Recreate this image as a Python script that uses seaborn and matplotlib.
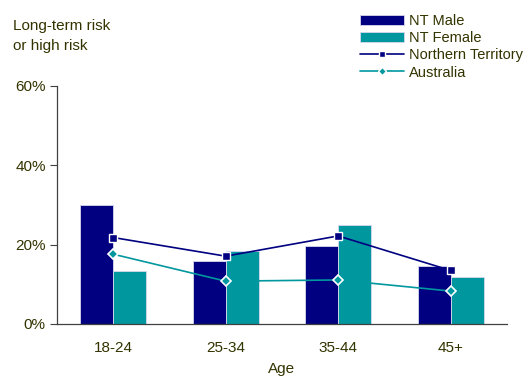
import matplotlib
matplotlib.use("Agg")
import matplotlib.pyplot as plt
from matplotlib.patches import Patch
from matplotlib.lines import Line2D
import pandas as pd
import seaborn as sns

# Share of adults at long-term or high risk, by age group
ages = ["18-24", "25-34", "35-44", "45+"]
nt_male = [30.0, 16.0, 19.7, 14.5]
nt_female = [13.4, 18.4, 25.0, 11.9]
northern_territory = [21.8, 17.1, 22.2, 13.5]
australia = [17.6, 10.8, 11.1, 8.3]
y_ticks = [0, 20, 40, 60]

NAVY = "#000080"
TEAL = "#00979F"
TEXT = "#333300"
FS = 11

sns.set_theme(style="white")
plt.rcParams["font.family"] = ["Liberation Sans", "DejaVu Sans"]
plt.rcParams["font.size"] = FS

bars = pd.DataFrame({
    "Age": ages * 2,
    "Value": nt_male + nt_female,
    "Group": ["NT Male"] * len(ages) + ["NT Female"] * len(ages),
})

fig = plt.figure(figsize=(5.30, 3.76), dpi=100)
ax = fig.add_axes([0.1075, 0.1383, 0.849, 0.633])

sns.barplot(data=bars, x="Age", y="Value", hue="Group", order=ages,
            hue_order=["NT Male", "NT Female"],
            palette=[NAVY, TEAL], saturation=1, width=0.59, dodge=True,
            edgecolor="#d8d8ee", linewidth=0.6, errorbar=None,
            legend=False, ax=ax)

sns.pointplot(x=ages, y=northern_territory, order=ages, color=NAVY,
              markers="s", markersize=6, linewidth=1.2,
              markeredgecolor="white", markeredgewidth=1.0, ax=ax)
sns.pointplot(x=ages, y=australia, order=ages, color=TEAL,
              markers="D", markersize=5.5, linewidth=1.2,
              markeredgecolor="white", markeredgewidth=1.2, ax=ax)

ax.set_xlim(-0.5, len(ages) - 0.5)
ax.set_ylim(0, 60)
ax.set_yticks(y_ticks)
ax.set_yticklabels([f"{v}%" for v in y_ticks], color=TEXT, fontsize=FS)
ax.set_xticks(range(len(ages)))
ax.set_xticklabels(ages, color=TEXT, fontsize=FS)
ax.set_xticks([i - 0.5 for i in range(len(ages) + 1)], minor=True)
ax.tick_params(axis="x", which="major", length=0, pad=12)
ax.tick_params(axis="x", which="minor", length=5, color="#808080", width=1.0)
ax.tick_params(axis="y", length=5, color="#404040", width=0.8, left=True, pad=3)
ax.set_xlabel("Age", color=TEXT, fontsize=FS, labelpad=5)
ax.set_ylabel("")

for side in ("top", "right"):
    ax.spines[side].set_visible(False)
for side in ("left", "bottom"):
    ax.spines[side].set_color("#404040")
    ax.spines[side].set_linewidth(0.9)

fig.text(0.025, 0.95, "Long-term risk\nor high risk", color=TEXT,
         fontsize=FS, va="top", ha="left", linespacing=1.6)

handles = [
    Patch(facecolor=NAVY, edgecolor="#d8d8ee", linewidth=0.6),
    Patch(facecolor=TEAL, edgecolor="#d8d8ee", linewidth=0.6),
    Line2D([], [], color=NAVY, marker="s", markersize=5, linewidth=1.2,
           markeredgecolor="white"),
    Line2D([], [], color=TEAL, marker="D", markersize=4.5, linewidth=1.2,
           markeredgecolor="white"),
]
fig.legend(handles, ["NT Male", "NT Female", "Northern Territory", "Australia"],
           loc="upper left", bbox_to_anchor=(0.66, 0.99), frameon=False,
           fontsize=10.5, labelcolor=TEXT, handlelength=3.0, handleheight=0.75,
           labelspacing=0.22, handletextpad=0.35, borderpad=0.2)

fig.savefig("out.png", dpi=100)
